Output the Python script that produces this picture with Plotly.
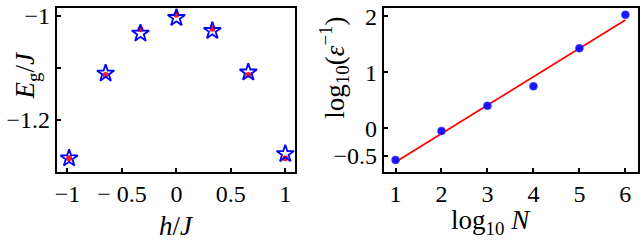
import plotly.graph_objects as go
import numpy as np

# Left panel data
h_vals = [-0.985, -0.65, -0.33, 0.0, 0.33, 0.66, 1.0]
eg_star = [-1.2745, -1.111, -1.034, -1.004, -1.029, -1.109, -1.266]
eg_dot = [-1.2745, -1.114, -1.026, -0.998, -1.025, -1.114, -1.2745]
left_xticks = [-1, -0.5, 0, 0.5, 1]
left_xtext = ["−1", "− 0.5", "0", "0.5", "1"]
left_yticks = [-1.0, -1.1, -1.2]
left_ytext = ["−1", " ", "−1.2"]

# Right panel data
logN = [1, 2, 3, 4, 5, 6]
log_inv_eps = [-0.57, -0.05, 0.40, 0.75, 1.43, 2.03]
right_xticks = [1, 2, 3, 4, 5, 6]
right_yticks = [-0.5, 0, 1, 2]
right_ytext = ["−0.5", "0", "1", "2"]

coef = np.polyfit(logN, log_inv_eps, 1)
fit_x = [min(logN), max(logN)]
fit_y = list(np.polyval(coef, fit_x))

FONT = "Liberation Serif"
FS = 24
FT = 27

fig = go.Figure()
fig.add_trace(go.Scatter(x=h_vals, y=eg_dot, mode="markers",
                         marker=dict(symbol="circle", size=6, color="rgba(255,0,0,0.9)"),
                         xaxis="x", yaxis="y", showlegend=False))
fig.add_trace(go.Scatter(x=h_vals, y=eg_star, mode="markers",
                         marker=dict(symbol="star-open", size=13, color="#0000ff",
                                     line=dict(width=1.8, color="#0000ff")),
                         xaxis="x", yaxis="y", showlegend=False))
fig.add_trace(go.Scatter(x=fit_x, y=fit_y, mode="lines",
                         line=dict(color="#ff0000", width=1.8),
                         xaxis="x2", yaxis="y2", showlegend=False))
fig.add_trace(go.Scatter(x=logN, y=log_inv_eps, mode="markers",
                         marker=dict(symbol="circle", size=8, color="rgba(0,0,255,0.9)",
                                     line=dict(width=1, color="rgba(80,80,255,0.5)")),
                         xaxis="x2", yaxis="y2", showlegend=False))

ax_common = dict(showline=True, linecolor="black", linewidth=2, mirror=True,
                 ticks="inside", ticklen=4, tickwidth=1.5, tickcolor="black",
                 showgrid=False, zeroline=False, ticklabeloverflow="allow",
                 tickfont=dict(family=FONT, size=FS, color="black"))

yd = [1 - 170 / 244, 1 - 3 / 244]
fig.update_layout(
    width=640, height=244,
    margin=dict(l=0, r=0, t=0, b=0),
    paper_bgcolor="white", plot_bgcolor="white",
    xaxis=dict(domain=[55 / 640, 294 / 640], range=[-1.098, 1.09],
               tickvals=left_xticks, ticktext=left_xtext, anchor="y", **ax_common),
    yaxis=dict(domain=yd, range=[-1.30, -0.985],
               tickvals=left_yticks, ticktext=left_ytext, anchor="x", **ax_common),
    xaxis2=dict(domain=[383 / 640, 638 / 640], range=[0.745, 6.275],
                tickvals=right_xticks, anchor="y2", **ax_common),
    yaxis2=dict(domain=yd, range=[-0.777, 2.153],
                tickvals=right_yticks, ticktext=right_ytext, anchor="x2", **ax_common),
)

anns = [
    dict(text="<i>h</i>/<i>J</i>", x=175 / 640, y=1 - 226 / 244),
    dict(text="log<sub>10</sub> <i>N</i>", x=491 / 640, y=1 - 222 / 244),
    dict(text="<i>E</i><sub>g</sub>/<i>J</i>", x=25 / 640, y=1 - 72 / 244, textangle=-90),
    dict(text="log<sub>10</sub>(<i>ε</i><sup>−1</sup>)", x=333 / 640, y=1 - 64 / 244, textangle=-90),
]
for a in anns:
    fig.add_annotation(xref="paper", yref="paper", showarrow=False,
                       xanchor="center", yanchor="middle",
                       font=dict(family=FONT, size=FT, color="black"), **a)

fig.write_html("out.html", config={"displayModeBar": False},
               post_script="document.body.style.margin='0';document.body.style.padding='0';")
